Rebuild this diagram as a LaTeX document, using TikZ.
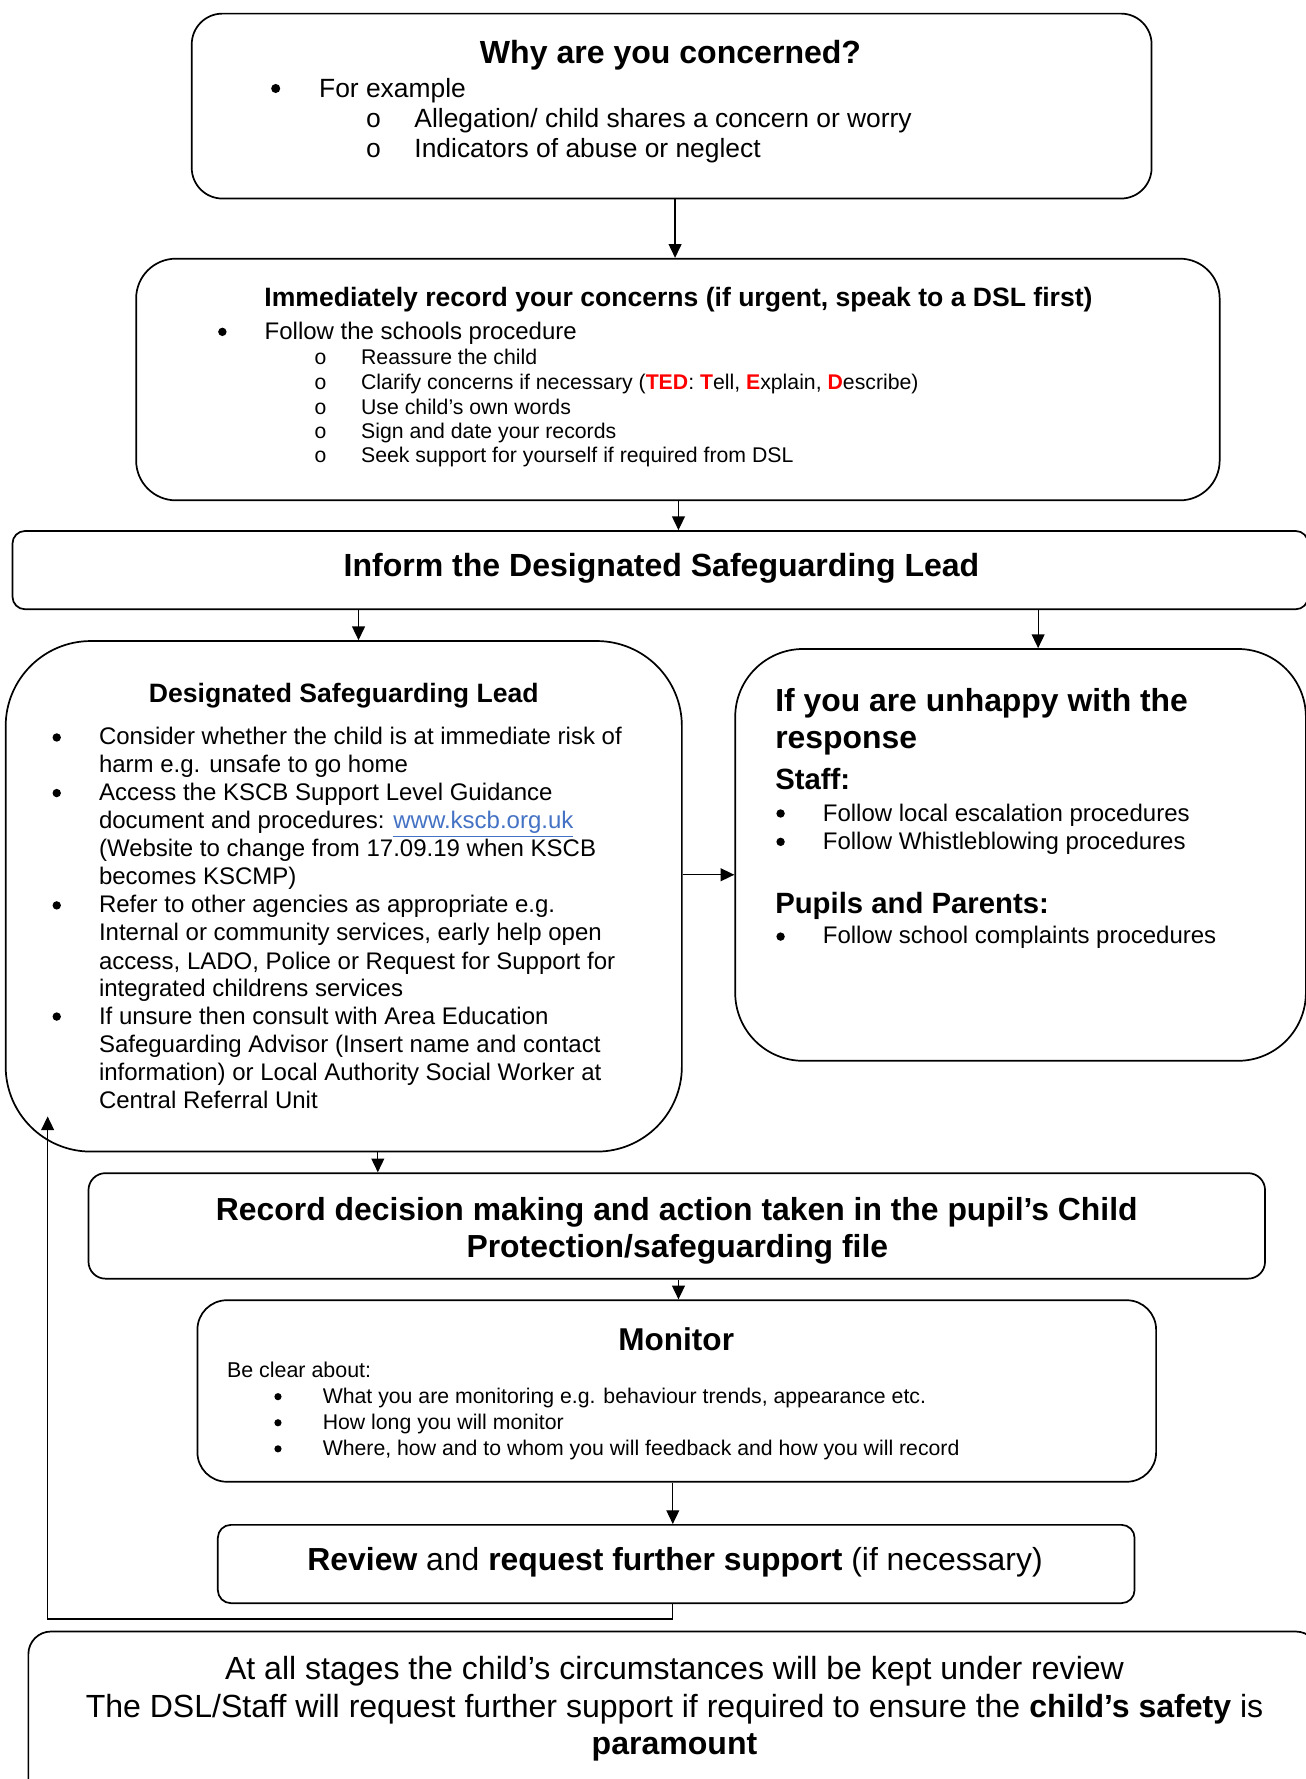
\documentclass[tikz,border=0pt]{standalone}
\usepackage{fontspec}
\setmainfont{Liberation Sans}
\newfontfamily\monof{Liberation Mono}
\usetikzlibrary{arrows.meta,fit,calc}
\definecolor{linkblue}{RGB}{68,114,196}
\definecolor{tedred}{RGB}{255,0,0}
\newcommand{\FS}[1]{\fontsize{#1}{#1}\selectfont}
\tikzset{
  box/.style={draw, line width=1pt, inner sep=0pt},
  arr/.style={line width=0.75pt, -{Triangle[length=8pt,width=7.5pt]}},
  L/.style={anchor=base west, inner sep=0pt},
  C/.style={anchor=base, inner sep=0pt},
  bigb/.style={font={\FS{18.6}\bfseries}},
  dot/.style={circle, fill=black, draw=none, inner sep=0pt, minimum size=4.9pt},
  sdot/.style={circle, fill=black, draw=none, inner sep=0pt, minimum size=4.2pt},
}
\begin{document}
\begin{tikzpicture}[x=0.662pt,y=-0.662pt]
\path[use as bounding box] (0,0) rectangle (1151,1568);
\fill[white] (0,0) rectangle (1151,1568);
\clip (0,0) rectangle (1151,1568);

% ---------- boxes ----------
\node[box, rounded corners=17.9pt, fit={(169,12) (1015,175)}] (why) {};
\node[box, rounded corners=23.2pt, fit={(120,228) (1075,441)}] (rec) {};
\node[box, rounded corners=7.3pt, fit={(11,468) (1153,537)}] (inform) {};
\node[box, rounded corners=49.7pt, fit={(5,565) (601,1015)}] (dsl) {};
\node[box, rounded corners=39.7pt, fit={(648,572) (1151,935)}] (unhappy) {};
\node[box, rounded corners=9.9pt, fit={(78,1034) (1115,1127)}] (decide) {};
\node[box, rounded corners=17.2pt, fit={(174,1146) (1019,1306)}] (monitor) {};
\node[box, rounded corners=7.6pt, fit={(192,1344) (1000,1413)}] (review) {};
\node[box, rounded corners=13.2pt, fit={(25,1438) (1162,1600)}] (bottom) {};

% ---------- connectors ----------
\coordinate (xa1) at (595,0);
\coordinate (xa2) at (598,0);
\coordinate (xa3) at (316,0);
\coordinate (xa3b) at (915,0);
\coordinate (ya4) at (0,771);
\coordinate (xa5) at (333,0);
\coordinate (xa6) at (598,0);
\coordinate (xa7) at (593,0);
\coordinate (fbl) at (42,1427);
\coordinate (fbe) at (42,984);

\draw[arr] (why.south -| xa1) -- (rec.north -| xa1);
\draw[arr] (rec.south -| xa2) -- (inform.north -| xa2);
\draw[arr] (inform.south -| xa3) -- (dsl.north -| xa3);
\draw[arr] (inform.south -| xa3b) -- (unhappy.north -| xa3b);
\draw[arr] (dsl.east |- ya4) -- (unhappy.west |- ya4);
\draw[arr] (dsl.south -| xa5) -- (decide.north -| xa5);
\draw[arr] (decide.south -| xa6) -- (monitor.north -| xa6);
\draw[arr] (monitor.south -| xa7) -- (review.north -| xa7);
\draw[arr] (review.south -| xa7) |- (fbl) -- (fbe);

% ---------- box 1 ----------
\node[C, font={\FS{18.7}\bfseries}] (wt) at (591,56) {Why are you concerned?};
\node[dot, minimum size=5.3pt] (wb1) at (243,78) {};
\node[L, font={\FS{15.4}}] (w1) at (281,86) {For example};
\node[L, font={\FS{15.4}\monof}] (wo1) at (322,112) {o};
\node[L, font={\FS{15.4}}] (w2) at (365,112) {Allegation/ child shares a concern or worry};
\node[L, font={\FS{15.4}\monof}] (wo2) at (322,138.5) {o};
\node[L, font={\FS{15.4}}] (w3) at (365,138.5) {Indicators of abuse or neglect};

% ---------- box 2 ----------
\node[C, font={\FS{15.5}\bfseries}] (it) at (598,270) {Immediately record your concerns (if urgent, speak to a DSL first)};
\node[dot] (ib) at (196,292.5) {};
\node[L, font={\FS{14}}] (i1) at (233,299.5) {Follow the schools procedure};
\node[L, font={\FS{12.4}\monof}] (io1) at (276.5,321) {o};
\node[L, font={\FS{12.4}}] (i2) at (318,321) {Reassure the child};
\node[L, font={\FS{12.4}\monof}] (io2) at (276.5,343) {o};
\node[L, font={\FS{12.4}}] (i3) at (318,343) {Clarify concerns if necessary (\textcolor{tedred}{\textbf{TED}}: \textcolor{tedred}{\textbf{T}}ell, \textcolor{tedred}{\textbf{E}}xplain, \textcolor{tedred}{\textbf{D}}escribe)};
\node[L, font={\FS{12.4}\monof}] (io3) at (276.5,365) {o};
\node[L, font={\FS{12.4}}] (i4) at (318,365) {Use child’s own words};
\node[L, font={\FS{12.4}\monof}] (io4) at (276.5,386.5) {o};
\node[L, font={\FS{12.4}}] (i5) at (318,386.5) {Sign and date your records};
\node[L, font={\FS{12.4}\monof}] (io5) at (276.5,408) {o};
\node[L, font={\FS{12.4}}] (i6) at (318,408) {Seek support for yourself if required from DSL};

% ---------- inform ----------
\node[C, font={\FS{18.7}\bfseries}] (ft) at (583,508) {Inform the Designated Safeguarding Lead};

% ---------- DSL ----------
\node[C, font={\FS{15.5}\bfseries}] (dt) at (303,619) {Designated Safeguarding Lead};
\node[dot] (db1) at (50,650) {};
\node[dot] (db2) at (50,699) {};
\node[dot] (db3) at (50,798) {};
\node[dot] (db4) at (50,896) {};
\begin{scope}[every node/.style={L, font={\FS{14}}}]
\node (d1) at (87,656.3) {Consider whether the child is at immediate risk of};
\node (d2) at (87,680.6) {harm e.g. unsafe to go home};
\node (d3) at (87,705.5) {Access the KSCB Support Level Guidance};
\node (d4) at (87,730.2) {document and procedures: \textcolor{linkblue}{\underline{www.kscb.org.uk}}};
\node (d5) at (87,755.1) {(Website to change from 17.09.19 when KSCB};
\node (d6) at (87,779.7) {becomes KSCMP)};
\node (d7) at (87,804.6) {Refer to other agencies as appropriate e.g.};
\node (d8) at (87,829.2) {Internal or community services, early help open};
\node (d9) at (87,854.2) {access, LADO, Police or Request for Support for};
\node (d10) at (87,878.1) {integrated childrens services};
\node (d11) at (87,902.9) {If unsure then consult with Area Education};
\node (d12) at (87,927.9) {Safeguarding Advisor (Insert name and contact};
\node (d13) at (87,952.4) {information) or Local Authority Social Worker at};
\node (d14) at (87,976.8) {Central Referral Unit};
\end{scope}

% ---------- unhappy ----------
\node[L, font={\FS{18.6}\bfseries}] (u1) at (683,626.7) {If you are unhappy with the};
\node[L, font={\FS{18.6}\bfseries}] (u2) at (683,659.3) {response};
\node[L, font={\FS{17.1}\bfseries}] (u3) at (683,695.8) {Staff:};
\node[dot] (ub1) at (688,717) {};
\node[L, font={\FS{14}}] (u4) at (725,723.7) {Follow local escalation procedures};
\node[dot] (ub2) at (688,742) {};
\node[L, font={\FS{14}}] (u5) at (725,748.6) {Follow Whistleblowing procedures};
\node[L, font={\FS{17.1}\bfseries}] (u6) at (683,805.3) {Pupils and Parents:};
\node[dot] (ub3) at (688,825.5) {};
\node[L, font={\FS{14}}] (u7) at (725,831.8) {Follow school complaints procedures};

% ---------- record decision ----------
\node[C, bigb] (r1) at (596.5,1075.7) {Record decision making and action taken in the pupil’s Child};
\node[C, bigb] (r2) at (597,1108) {Protection/safeguarding file};

% ---------- monitor ----------
\node[C, font={\FS{18.4}\bfseries}] (m0) at (596,1190.2) {Monitor};
\node[L, font={\FS{12.5}}] (m1) at (199.8,1214.2) {Be clear about:};
\node[sdot] (mb1) at (245,1231) {};
\node[L, font={\FS{12.4}}] (m2) at (284.2,1236.9) {What you are monitoring e.g. behaviour trends, appearance etc.};
\node[sdot] (mb2) at (245,1254) {};
\node[L, font={\FS{12.4}}] (m3) at (284.2,1260) {How long you will monitor};
\node[sdot] (mb3) at (245,1277) {};
\node[L, font={\FS{12.4}}] (m4) at (284.2,1282.8) {Where, how and to whom you will feedback and how you will record};

% ---------- review ----------
\node[C, font={\FS{18.6}}] (v1) at (595,1384.2) {\textbf{Review} and \textbf{request further support} (if necessary)};

% ---------- bottom ----------
\node[C, font={\FS{18.7}}] (b1) at (594.5,1480.6) {At all stages the child’s circumstances will be kept under review};
\node[C, font={\FS{18.7}}] (b2) at (594.5,1514) {The DSL/Staff will request further support if required to ensure the \textbf{child’s safety} is};
\node[C, font={\FS{18.7}\bfseries}] (b3) at (594.5,1546.8) {paramount};
\end{tikzpicture}
\end{document}
